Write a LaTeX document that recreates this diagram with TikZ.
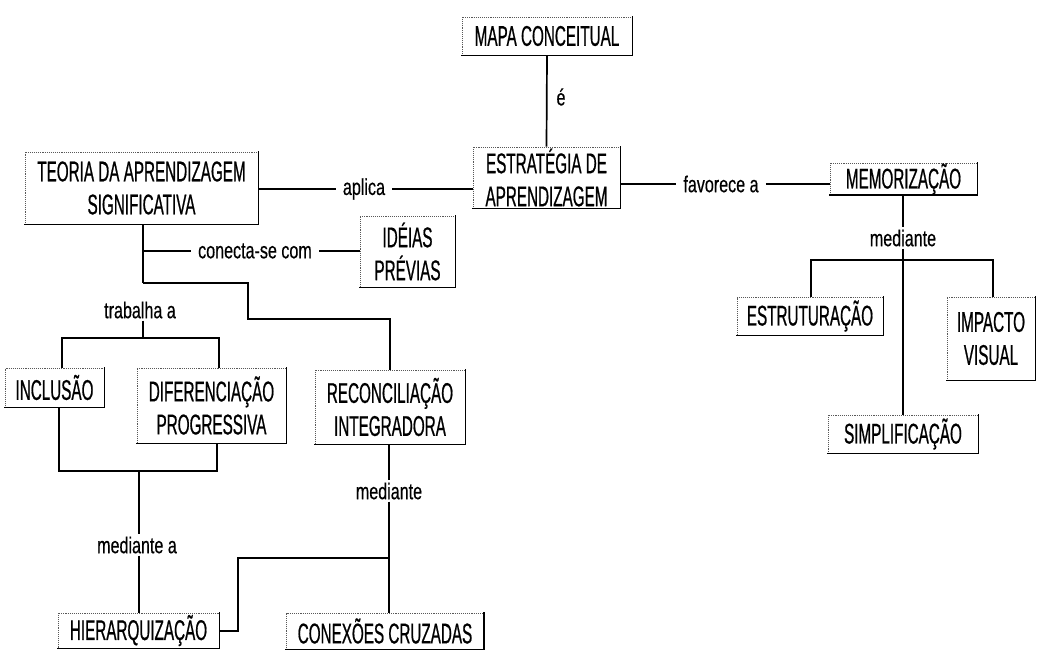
\documentclass[tikz,border=0pt]{standalone}
\usepackage{fontspec}
\setmainfont[FakeStretch=0.535,FakeBold=0.6]{Liberation Sans}
\newfontfamily\labfont[FakeStretch=0.7,FakeBold=0.4]{Liberation Sans}
\begin{document}
\begin{tikzpicture}[x=1pt,y=-1pt,
  box/.style={draw=black!65, densely dotted, line width=0.9pt, inner sep=0pt, align=center,
    font=\fontsize{28.5}{33}\selectfont},
  boxedge/.style={line width=1.8pt, line cap=rect},
  conn/.style={line width=1.7pt},
  lab/.style={fill=white, inner xsep=7pt, inner ysep=2pt, font=\labfont\fontsize{23}{27}\selectfont}]
\useasboundingbox[fill=white] (0,0) rectangle (1042,650);

% concept boxes
\node[box, minimum width=170pt, minimum height=38pt] (mapa) at (547,36) {MAPA CONCEITUAL};
\node[box, minimum width=147pt, minimum height=61pt] (estr) at (546.5,177.5) {ESTRATÉGIA DE\\APRENDIZAGEM};
\node[box, minimum width=233pt, minimum height=72pt] (teoria) at (141.5,188) {TEORIA DA APRENDIZAGEM\\SIGNIFICATIVA};
\node[box, minimum width=95pt, minimum height=71pt] (ideias) at (407.5,251.5) {IDÉIAS\\PRÉVIAS};
\node[box, minimum width=147pt, minimum height=31pt] (memo) at (903.5,179) {MEMORIZAÇÃO};
\node[box, minimum width=146pt, minimum height=38pt] (estrut) at (810,316) {ESTRUTURAÇÃO};
\node[box, minimum width=88pt, minimum height=83pt] (impacto) at (991,338.5) {IMPACTO\\VISUAL};
\node[box, minimum width=150pt, minimum height=38pt] (simpl) at (903,434) {SIMPLIFICAÇÃO};
\node[box, minimum width=99pt, minimum height=39pt] (inclusao) at (54.5,387.5) {INCLUSÃO};
\node[box, minimum width=149pt, minimum height=75pt] (difer) at (211.5,405.5) {DIFERENCIAÇÃO\\PROGRESSIVA};
\node[box, minimum width=150pt, minimum height=74pt] (recon) at (390,407) {RECONCILIAÇÃO\\INTEGRADORA};
\node[box, minimum width=161pt, minimum height=35pt] (hier) at (138.5,630.5) {HIERARQUIZAÇÃO};
\node[box, minimum width=197pt, minimum height=36pt] (conex) at (385,631) {CONEXÕES CRUZADAS};

\foreach \n in {mapa,estr,teoria,ideias,memo,estrut,impacto,simpl,inclusao,difer,recon,hier,conex}
  \draw[boxedge] (\n.north east) -- (\n.south east) -- (\n.south west);

% link labels
\node[lab] (aplica) at (364,189) {aplica};
\node[lab] (fav) at (721,184) {favorece a};
\node[lab] (conec) at (255,251) {conecta-se com};
\node[lab] (trab) at (140,310) {trabalha a};
\node[lab] (med1) at (137,545) {mediante a};
\node[lab] (med2) at (389,491) {mediante};
\node[lab] (med3) at (903,238) {mediante};
\node[font=\labfont\fontsize{23}{27}\selectfont] (e) at (561,97) {é};

% junction coordinates
\coordinate (t1) at (143,251);
\coordinate (t2) at (143,283);
\coordinate (t3) at (143,338);
\coordinate (b1) at (248,283);
\coordinate (b2) at (248,319);
\coordinate (j1) at (62,338);
\coordinate (j2) at (219,338);
\coordinate (k1) at (59,471);
\coordinate (k2) at (217,471);
\coordinate (k3) at (139,471);
\coordinate (r1) at (389,558);
\coordinate (r2) at (238,558);
\coordinate (r3) at (238,631);
\coordinate (s1) at (903,260);
\coordinate (s2) at (811,260);
\coordinate (s3) at (993,260);

% connectors
\draw[conn] (mapa.south) -- (estr.north);
\draw[conn] (teoria.east |- aplica) -- (aplica.west);
\draw[conn] (aplica.east) -- (aplica -| estr.west);
\draw[conn] (fav -| estr.east) -- (fav.west);
\draw[conn] (fav.east) -- (fav -| memo.west);

\draw[conn] (teoria.south -| t2) -- (t2);
\draw[conn] (t1) -- (conec.west);
\draw[conn] (conec.east) -- (conec -| ideias.west);
\draw[conn] (t2) -- (b1) -- (b2) -| (recon.north);
\draw[conn] (trab.south -| t3) -- (t3);
\draw[conn] (j1 |- inclusao.north) -- (j1) -- (j2) -- (j2 |- difer.north);
\draw[conn] (k1 |- inclusao.south) -- (k1) -- (k2) -- (k2 |- difer.south);
\draw[conn] (k3) -- (k3 |- med1.north);
\draw[conn] (k3 |- med1.south) -- (k3 |- hier.north);

\draw[conn] (recon.south -| r1) -- (r1 |- med2.north);
\draw[conn] (med2.south -| r1) -- (r1) -- (r1 |- conex.north);
\draw[conn] (r1) -- (r2) -- (r3) -- (r3 -| hier.east);

\draw[conn] (memo.south -| s1) -- (s1 |- med3.north);
\draw[conn] (med3.south -| s1) -- (s1) -- (s1 |- simpl.north);
\draw[conn] (s2 |- estrut.north) -- (s2) -- (s3) -- (s3 |- impacto.north);
\end{tikzpicture}
\end{document}
